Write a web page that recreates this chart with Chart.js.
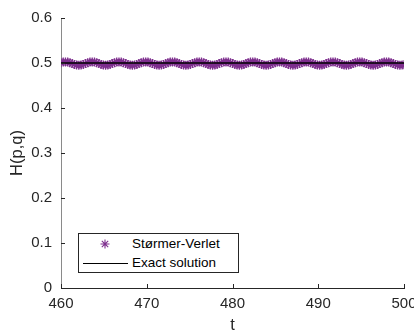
<!DOCTYPE html>
<html>
<head>
<meta charset="utf-8">
<script src="https://cdn.jsdelivr.net/npm/chart.js@4"></script>
<style>
html,body{margin:0;padding:0;background:#fff;overflow:hidden}
#wrap{position:relative;width:424px;height:336px}
#legend{position:absolute;left:78px;top:233px;width:159px;height:38px;border:1px solid #262626;background:#fff;font:13.5px "Liberation Sans",Arial,sans-serif;color:#000}
#legend .txt{position:absolute;left:53px;height:18px;line-height:18px;white-space:nowrap}
#legend svg{position:absolute;left:21px;top:5px}
#legend .ln{position:absolute;left:4px;width:45px;top:29px;border-top:1px solid #000}
</style>
</head>
<body>
<div id="wrap">
  <canvas id="chart" width="424" height="336"></canvas>
  <div id="legend">
    <svg width="10" height="10" viewBox="0 0 10 10"><path d="M5 0.5V9.5M0.5 5H9.5M1.8 1.8L8.2 8.2M8.2 1.8L1.8 8.2" stroke="#7e2f8e" stroke-width="1.1" fill="none"/></svg>
    <span class="txt" style="top:1px">Størmer-Verlet</span>
    <div class="ln"></div>
    <span class="txt" style="top:20px">Exact solution</span>
  </div>
</div>
<script>
// sample times of the integrator and the energy it keeps
const tValues = [
  460, 460.26, 460.52, 460.78, 461.04, 461.3, 461.56, 461.82, 462.08, 462.34, 462.6, 462.86,
  463.12, 463.38, 463.64, 463.9, 464.16, 464.42, 464.68, 464.94, 465.2, 465.46, 465.72, 465.98,
  466.24, 466.5, 466.76, 467.02, 467.28, 467.54, 467.8, 468.06, 468.32, 468.58, 468.84, 469.1,
  469.36, 469.62, 469.88, 470.14, 470.4, 470.66, 470.92, 471.18, 471.44, 471.7, 471.96, 472.22,
  472.48, 472.74, 473, 473.26, 473.52, 473.78, 474.04, 474.3, 474.56, 474.82, 475.08, 475.34,
  475.6, 475.86, 476.12, 476.38, 476.64, 476.9, 477.16, 477.42, 477.68, 477.94, 478.2, 478.46,
  478.72, 478.98, 479.24, 479.5, 479.76, 480.02, 480.28, 480.54, 480.8, 481.06, 481.32, 481.58,
  481.84, 482.1, 482.36, 482.62, 482.88, 483.14, 483.4, 483.66, 483.92, 484.18, 484.44, 484.7,
  484.96, 485.22, 485.48, 485.74, 486, 486.26, 486.52, 486.78, 487.04, 487.3, 487.56, 487.82,
  488.08, 488.34, 488.6, 488.86, 489.12, 489.38, 489.64, 489.9, 490.16, 490.42, 490.68, 490.94,
  491.2, 491.46, 491.72, 491.98, 492.24, 492.5, 492.76, 493.02, 493.28, 493.54, 493.8, 494.06,
  494.32, 494.58, 494.84, 495.1, 495.36, 495.62, 495.88, 496.14, 496.4, 496.66, 496.92, 497.18,
  497.44, 497.7, 497.96, 498.22, 498.48, 498.74, 499, 499.26, 499.52, 499.78, 500
]
const energy = [
  0.5006, 0.5020,
  0.5025, 0.5020, 0.5006, 0.4987, 0.4968, 0.4954, 0.4949, 0.4954, 0.4968, 0.4987, 0.5006, 0.5020,
  0.5025, 0.5020, 0.5006, 0.4987, 0.4968, 0.4954, 0.4949, 0.4954, 0.4968, 0.4987, 0.5006, 0.5020,
  0.5025, 0.5020, 0.5006, 0.4987, 0.4968, 0.4954, 0.4949, 0.4954, 0.4968, 0.4987, 0.5006, 0.5020,
  0.5025, 0.5020, 0.5006, 0.4987, 0.4968, 0.4954, 0.4949, 0.4954, 0.4968, 0.4987, 0.5006, 0.5020,
  0.5025, 0.5020, 0.5006, 0.4987, 0.4968, 0.4954, 0.4949, 0.4954, 0.4968, 0.4987, 0.5006, 0.5020,
  0.5025, 0.5020, 0.5006, 0.4987, 0.4968, 0.4954, 0.4949, 0.4954, 0.4968, 0.4987, 0.5006, 0.5020,
  0.5025, 0.5020, 0.5006, 0.4987, 0.4968, 0.4954, 0.4949, 0.4954, 0.4968, 0.4987, 0.5006, 0.5020,
  0.5025, 0.5020, 0.5006, 0.4987, 0.4968, 0.4954, 0.4949, 0.4954, 0.4968, 0.4987, 0.5006, 0.5020,
  0.5025, 0.5020, 0.5006, 0.4987, 0.4968, 0.4954, 0.4949, 0.4954, 0.4968, 0.4987, 0.5006, 0.5020,
  0.5025, 0.5020, 0.5006, 0.4987, 0.4968, 0.4954, 0.4949, 0.4954, 0.4968, 0.4987, 0.5006, 0.5020,
  0.5025, 0.5020, 0.5006, 0.4987, 0.4968, 0.4954, 0.4949, 0.4954, 0.4968, 0.4987, 0.5006, 0.5020,
  0.5025, 0.5020, 0.5006, 0.4987, 0.4968, 0.4954, 0.4949, 0.4954, 0.4968, 0.4987, 0.5006, 0.5020,
  0.5025, 0.5020, 0.5006, 0.4987, 0.4968, 0.4954, 0.4949, 0.4954,
  0.4962
]
const exactT = [460, 500]
const exactH = [0.5, 0.5]
const xTicks = [460, 470, 480, 490, 500]
const yTicks = [0, 0.1, 0.2, 0.3, 0.4, 0.5, 0.6]

const ink = '#262626'
const font = '"Liberation Sans", Arial, Helvetica, sans-serif'

// MATLAB style ticks pointing into the axes
const innerTicks = {
  id: 'innerTicks',
  afterDraw(chart) {
    const { ctx, chartArea: a, scales: { x, y } } = chart
    ctx.save()
    ctx.strokeStyle = ink
    ctx.lineWidth = 1
    ctx.beginPath()
    xTicks.forEach(v => {
      const px = Math.round(x.getPixelForValue(v)) + 0.5
      ctx.moveTo(px, a.bottom)
      ctx.lineTo(px, a.bottom - 4)
    })
    yTicks.forEach(v => {
      const py = Math.round(y.getPixelForValue(v)) + 0.5
      ctx.moveTo(a.left, py)
      ctx.lineTo(a.left + 4, py)
    })
    ctx.stroke()
    ctx.restore()
  }
}

new Chart(document.getElementById('chart'), {
  type: 'scatter',
  data: {
    datasets: [
      {
        label: 'Størmer-Verlet',
        data: tValues.map((t, i) => ({ x: t, y: energy[i] })),
        pointStyle: 'star',
        pointRadius: 4.5,
        borderColor: '#7e2f8e',
        backgroundColor: '#7e2f8e',
        pointBorderWidth: 1.3,
        showLine: false,
        order: 2
      },
      {
        label: 'Exact solution',
        data: exactT.map((t, i) => ({ x: t, y: exactH[i] })),
        showLine: true,
        borderColor: '#000',
        borderWidth: 1.3,
        pointRadius: 0,
        order: 1
      }
    ]
  },
  options: {
    responsive: false,
    animation: false,
    devicePixelRatio: 1,
    layout: { padding: { top: 15, right: 20, left: 0, bottom: 0 } },
    plugins: { legend: { display: false }, tooltip: { enabled: false } },
    scales: {
      x: {
        type: 'linear',
        min: 460,
        max: 500,
        afterBuildTicks: s => { s.ticks = xTicks.map(v => ({ value: v })) },
        afterFit: s => { s.height = 48 },
        grid: { display: false, drawTicks: false },
        border: { display: true, color: ink, width: 1 },
        ticks: { color: ink, font: { family: font, size: 15 }, padding: 7, maxRotation: 0 },
        title: { display: true, text: 't', color: ink, font: { family: font, size: 16.5 }, padding: { top: 0, bottom: 1 } }
      },
      y: {
        min: 0,
        max: 0.6,
        afterBuildTicks: s => { s.ticks = yTicks.map(v => ({ value: v })) },
        afterFit: s => { s.width = 61 },
        grid: { display: false, drawTicks: false },
        border: { display: true, color: '#8a8a8a', width: 1 },
        ticks: { color: ink, font: { family: font, size: 15 }, padding: 9 },
        title: { display: true, text: 'H(p,q)', color: ink, font: { family: font, size: 16.5 }, padding: { top: 8, bottom: 0 } }
      }
    }
  },
  plugins: [innerTicks]
})
</script>
</body>
</html>
